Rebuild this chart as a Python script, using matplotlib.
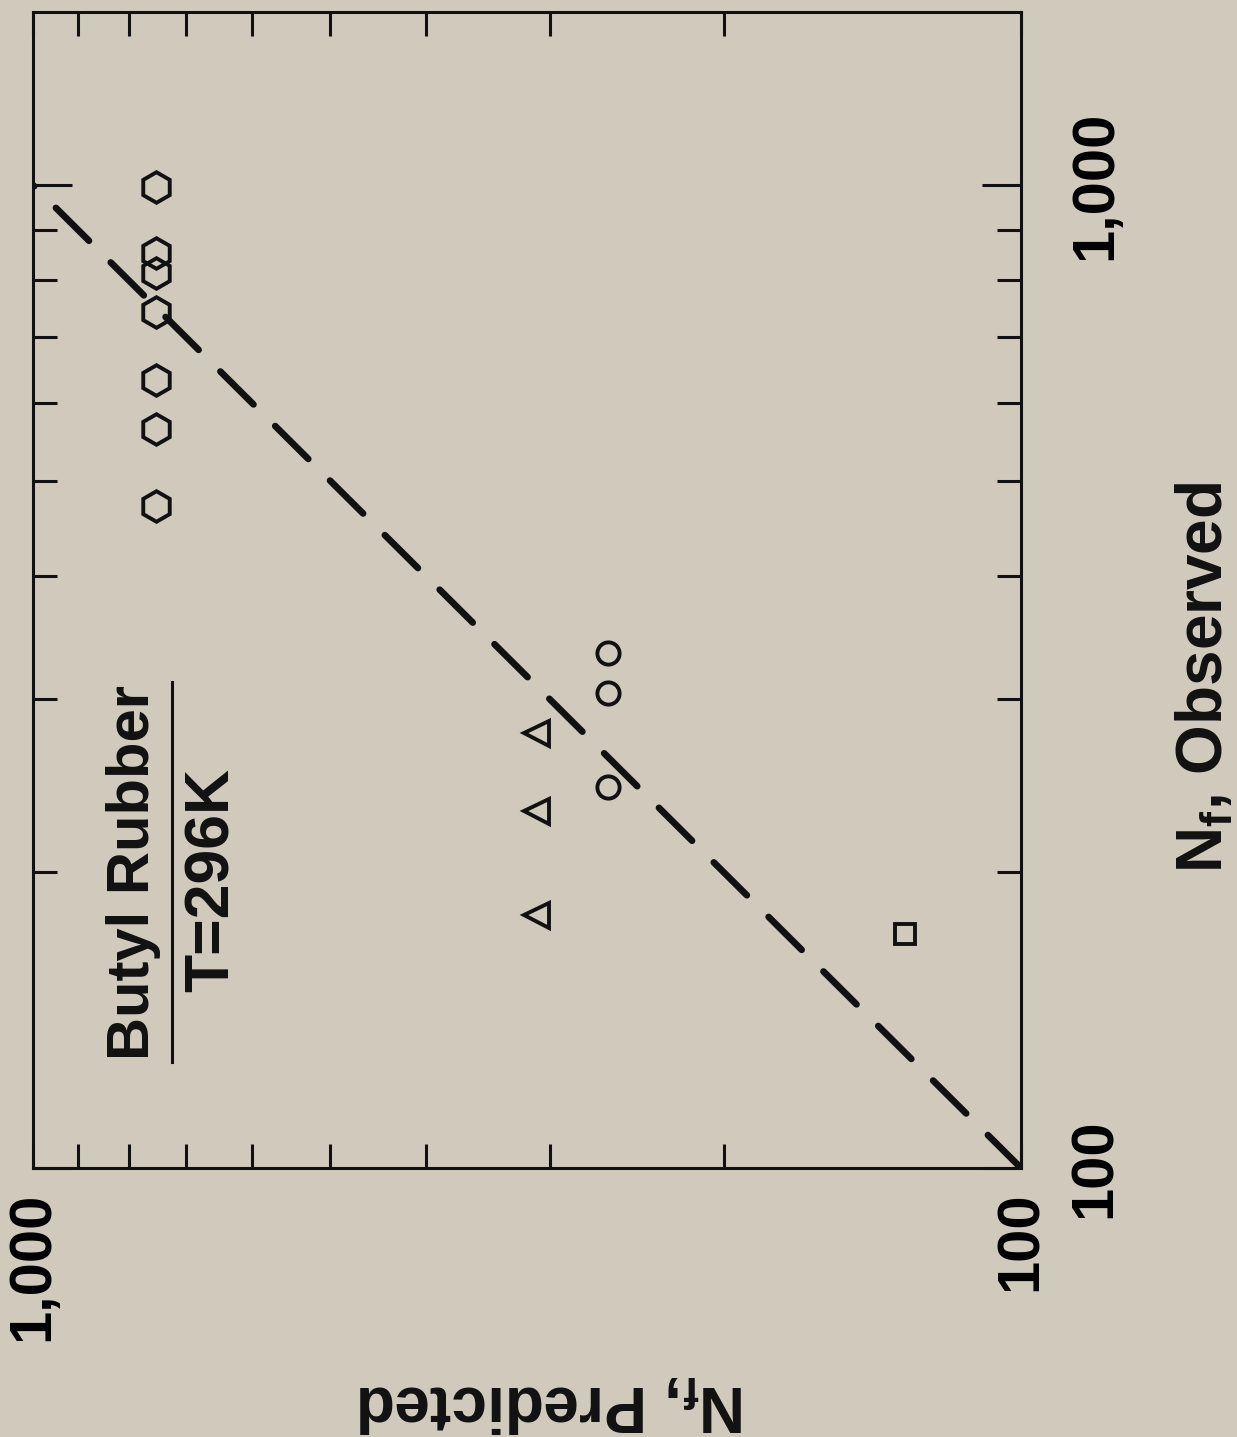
import matplotlib
matplotlib.use("Agg")
import matplotlib.pyplot as plt
from matplotlib.ticker import FixedLocator, FixedFormatter, NullFormatter

plt.rcParams["font.family"] = ["Liberation Sans", "DejaVu Sans"]
plt.rcParams["mathtext.fontset"] = "custom"
plt.rcParams["mathtext.rm"] = "Liberation Sans"
plt.rcParams["mathtext.bf"] = "Liberation Sans:bold"
plt.rcParams["mathtext.it"] = "Liberation Sans:italic"

# Data (N_f predicted vs N_f observed)
hex_pred = [750, 750, 750, 750, 750, 750, 750]
hex_obs = [995, 853, 813, 743, 634, 565, 471]
tri_pred = [310, 310, 310]
tri_obs = [277, 231, 181]
circ_pred = [262, 262, 262]
circ_obs = [334, 304, 244]
sq_pred = [131]
sq_obs = [173]

major_ticks = [100, 1000]
major_labels = ["100", "1,000"]
minor_ticks = [200, 300, 400, 500, 600, 700, 800, 900]

bg = "#cfcabb"
ink = "#111111"

fig = plt.figure(figsize=(12.37, 14.37), dpi=100, facecolor=bg)
# figure is drawn rotated: x = predicted (inverted), y = observed
ax = fig.add_axes([33 / 1237, (1437 - 1168) / 1437, 988 / 1237, 1156 / 1437])
ax.set_facecolor(bg)
ax.set_xscale("log")
ax.set_yscale("log")
ax.set_xlim(1000, 100)
ax.set_ylim(100, 1500)

# line of perfect agreement
ax.plot([100, 1000], [100, 1000], color=ink, lw=4.8, dashes=(7, 4.6),
        dash_capstyle="round", zorder=2)

mk = dict(linestyle="none", markerfacecolor="none", markeredgecolor=ink,
          markeredgewidth=2.8, zorder=3)
ax.plot(hex_pred, hex_obs, marker="h", markersize=22, **mk)
ax.plot(tri_pred, tri_obs, marker="<", markersize=18, **mk)
ax.plot(circ_pred, circ_obs, marker="o", markersize=16, **mk)
ax.plot(sq_pred, sq_obs, marker="s", markersize=14, **mk)

for s in ax.spines.values():
    s.set_linewidth(2.2)
    s.set_color(ink)

for axis in (ax.xaxis, ax.yaxis):
    axis.set_major_locator(FixedLocator(major_ticks))
    axis.set_major_formatter(FixedFormatter(major_labels))
    axis.set_minor_locator(FixedLocator(minor_ticks))
    axis.set_minor_formatter(NullFormatter())

ax.tick_params(axis="both", which="both", direction="in", color=ink, width=2.2)
ax.tick_params(axis="x", which="both", top=True, bottom=True, length=17)
ax.tick_params(axis="x", which="major", labelsize=43, labelrotation=90, pad=17)
ax.tick_params(axis="y", which="major", left=True, right=True, length=28,
               labelleft=False, labelright=True, labelsize=43,
               labelrotation=90, pad=34)
ax.tick_params(axis="y", which="minor", left=True, right=True, length=17)
for lab in ax.get_xticklabels():
    lab.set_fontweight("bold")
    lab.set_va("top")
    lab.set_ha("center")
for lab in ax.get_yticklabels():
    lab.set_fontweight("bold")
    lab.set_va("center")

xl = ax.set_xlabel(r"N$_\mathbf{f}$, Predicted", fontsize=46, fontweight="bold",
                   rotation=180, color=ink, ha="center", va="center")
xl.set_rotation_mode("default")
ax.xaxis.set_label_coords(0.525, -0.203)
ax.yaxis.set_label_position("right")
yl = ax.set_ylabel(r"N$_\mathbf{f}$, Observed", fontsize=46, fontweight="bold",
                   rotation=90, color=ink, ha="center", va="center")
yl.set_rotation_mode("default")
ax.yaxis.set_label_coords(1.186, 0.424)

ax.text(0.102, 0.256, "Butyl Rubber", transform=ax.transAxes, rotation=90,
        fontsize=43, fontweight="bold", ha="center", va="center", color=ink)
ax.plot([0.1407, 0.1407], [0.0917, 0.4204], transform=ax.transAxes,
        color=ink, lw=2.2)
ax.text(0.181, 0.249, "T=296K", transform=ax.transAxes, rotation=90,
        fontsize=45, fontweight="bold", ha="center", va="center", color=ink)

fig.savefig("out.png", dpi=100, facecolor=bg)
